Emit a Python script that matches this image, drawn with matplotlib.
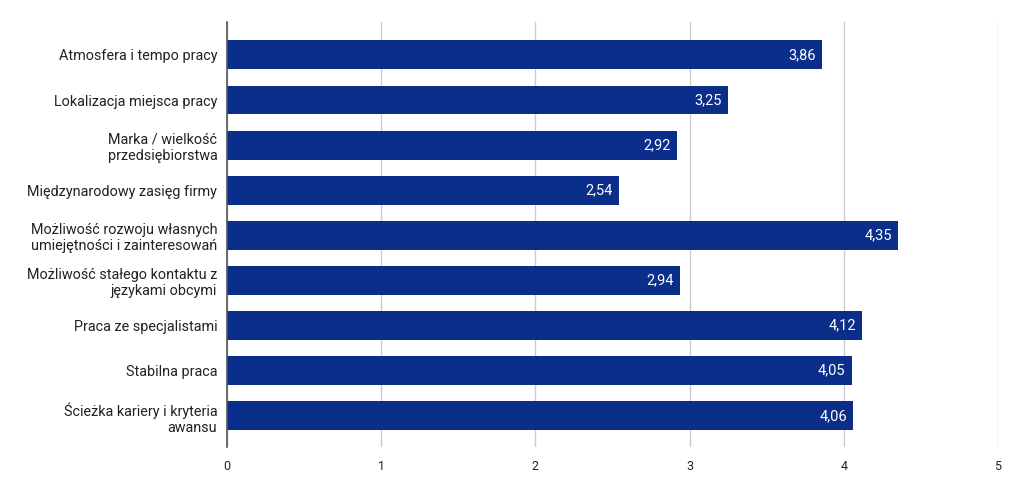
import numpy as np
import matplotlib.pyplot as plt

plt.rcParams['font.family'] = ['Roboto', 'DejaVu Sans']

categories = [
    'Atmosfera i tempo pracy',
    'Lokalizacja miejsca pracy',
    'Marka / wielkość\nprzedsiębiorstwa',
    'Międzynarodowy zasięg firmy',
    'Możliwość rozwoju własnych\numiejętności i zainteresowań',
    'Możliwość stałego kontaktu z\njęzykami obcymi',
    'Praca ze specjalistami',
    'Stabilna praca',
    'Ścieżka kariery i kryteria\nawansu',
]
values = [3.86, 3.25, 2.92, 2.54, 4.35, 2.94, 4.12, 4.05, 4.06]
xticks = [0, 1, 2, 3, 4, 5]

fig = plt.figure(figsize=(10.23, 4.94), dpi=100)
ax = fig.add_axes([0.2219, 0.0951, 0.7537, 0.8604])

y = np.arange(len(categories))
ax.barh(y, values, height=0.64, color='#0b2e8a', zorder=3)

for yi, v in zip(y, values):
    ax.text(v - 0.04, yi, f'{v:.2f}'.replace('.', ','), ha='right', va='center',
            color='white', fontsize=10.5, zorder=4)

ax.set_xlim(0, 5)
ax.set_ylim(8.69, -0.73)
ax.set_yticks(y)
ax.set_yticklabels(categories, fontsize=10.4, color='#222222')
ax.set_xticks(xticks)
ax.set_xticklabels([str(t) for t in xticks], fontsize=9, color='#222222')
ax.tick_params(axis='both', length=0)
ax.tick_params(axis='x', pad=9)
ax.tick_params(axis='y', pad=7)

ax.grid(axis='x', color='#cccccc', linewidth=1, zorder=0)
for s in ['top', 'right', 'bottom']:
    ax.spines[s].set_visible(False)
ax.spines['left'].set_color('#555555')
ax.spines['left'].set_linewidth(1.2)
ax.spines['left'].set_zorder(5)

fig.savefig('out.png', dpi=100)
